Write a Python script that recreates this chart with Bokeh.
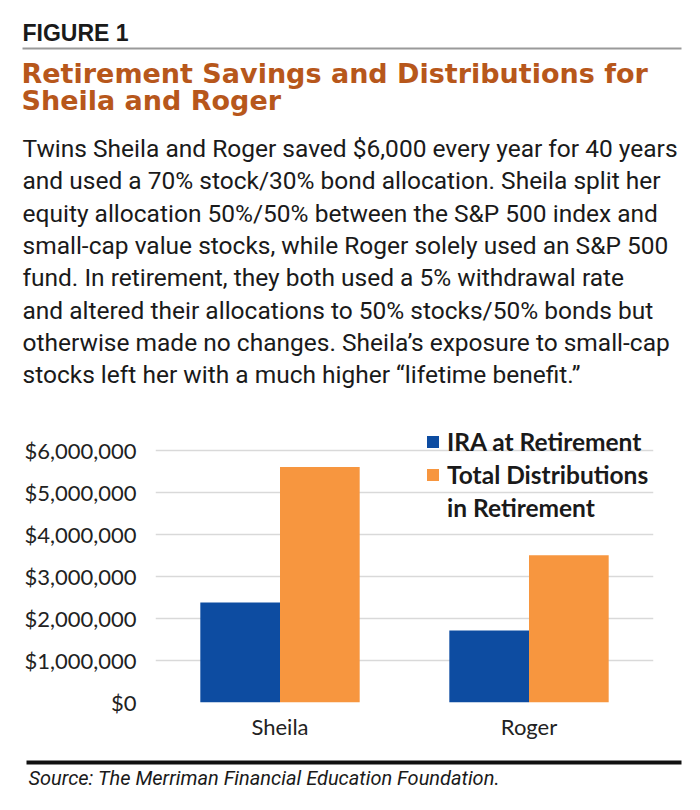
from bokeh.plotting import figure
from bokeh.models import (ColumnDataSource, Range1d, Legend, LegendItem,
                          NumeralTickFormatter, FixedTicker)
from bokeh.transform import dodge
from bokeh.layouts import column
from bokeh.core.properties import value
from bokeh.embed import file_html
from bokeh.resources import INLINE

# data
people = ["Sheila", "Roger"]
ira_at_retirement = [2_380_000, 1_710_000]
total_distributions = [5_600_000, 3_500_000]
y_ticks = [0, 1_000_000, 2_000_000, 3_000_000, 4_000_000, 5_000_000, 6_000_000]
series_names = ["IRA at Retirement", "Total Distributions", "in Retirement"]

figure_tag = "FIGURE 1"
title_lines = ["Retirement Savings and Distributions for", "Sheila and Roger"]
body_lines = [
    "Twins Sheila and Roger saved $6,000 every year for 40 years",
    "and used a 70% stock/30% bond allocation. Sheila split her",
    "equity allocation 50%/50% between the S&P 500 index and",
    "small-cap value stocks, while Roger solely used an S&P 500",
    "fund. In retirement, they both used a 5% withdrawal rate",
    "and altered their allocations to 50% stocks/50% bonds but",
    "otherwise made no changes. Sheila\u2019s exposure to small-cap",
    "stocks left her with a much higher \u201clifetime benefit.\u201d",
]
source_note = "Source: The Merriman Financial Education Foundation."

BLUE = "#0D4CA1"
ORANGE = "#F7963F"
RUST = "#B7571B"
W = 684
HEAD_H, CHART_H, FOOT_H = 410, 342, 42


def blank(height):
    # a figure with pixel coordinates, y going down
    f = figure(width=W, height=height, x_range=Range1d(0, W), y_range=Range1d(height, 0),
               output_backend="svg", toolbar_location=None, min_border=0,
               x_axis_type=None, y_axis_type=None, outline_line_color=None,
               frame_align=False)
    f.grid.visible = False
    return f


def base(y, size):
    # svg text sits ~0.36em under the given y, so lift it to hit the baseline
    return y - 0.36 * size


# header: tag, rule, title, paragraph
hdr = blank(HEAD_H)
hdr.text(x=[22], y=[base(41, 23)], text=[figure_tag], text_font=value("Liberation Sans"),
         text_font_style="bold", text_font_size="23px", text_color="#1a1a1a",
         text_baseline="alphabetic")
hdr.segment(x0=[22], y0=[48], x1=[681], y1=[48], line_color="#9a9a9a", line_width=2)
hdr.text(x=[21] * len(title_lines),
         y=[base(83 + 27 * i, 27) for i in range(len(title_lines))],
         text=title_lines, text_font=value("DejaVu Sans"), text_font_style="bold",
         text_font_size="27px", text_color=RUST, text_baseline="alphabetic")
hdr.text(x=[22] * len(body_lines),
         y=[base(157 + 32.3 * i, 24.5) for i in range(len(body_lines))],
         text=body_lines, text_font=value("Roboto"),
         text_font_size="24.5px", text_color="#1a1a1a", text_baseline="alphabetic")

# chart
src = ColumnDataSource(data=dict(person=people, ira=ira_at_retirement,
                                 dist=total_distributions))
p = figure(width=W, height=CHART_H, x_range=people, y_range=Range1d(0, 6_800_000),
           output_backend="svg", toolbar_location=None, frame_align=False,
           min_border_left=155, min_border_right=31, min_border_top=6, min_border_bottom=50,
           outline_line_color=None)
r1 = p.vbar(x=dodge("person", -0.16, range=p.x_range), top="ira", width=0.32,
            source=src, fill_color=BLUE, line_color=None)
r2 = p.vbar(x=dodge("person", 0.16, range=p.x_range), top="dist", width=0.32,
            source=src, fill_color=ORANGE, line_color=None)
# empty renderer, only used so the second legend line has no swatch
r_blank = p.vbar(x=[], top=[], width=0.32, fill_alpha=0, line_alpha=0)

p.xgrid.visible = False
p.ygrid.grid_line_color = "#D9D9D9"
p.ygrid.grid_line_width = 1.5
p.yaxis.ticker = FixedTicker(ticks=y_ticks)
p.yaxis.formatter = NumeralTickFormatter(format="$0,0")
for ax in (p.xaxis, p.yaxis):
    ax.axis_line_color = None
    ax.major_tick_line_color = None
    ax.minor_tick_line_color = None
    ax.major_label_text_font = "Lato"
    ax.major_label_text_font_size = "22px"
    ax.major_label_text_color = "#222222"
p.yaxis.major_label_standoff = 13
p.xaxis.major_label_standoff = 4

legend = Legend(items=[LegendItem(label=series_names[0], renderers=[r1]),
                       LegendItem(label=series_names[1], renderers=[r2]),
                       LegendItem(label=series_names[2], renderers=[r_blank])],
                location=(270, 180), orientation="vertical",
                glyph_width=15, glyph_height=15, label_standoff=7, spacing=4,
                padding=0, margin=0, border_line_color=None, background_fill_alpha=0,
                label_text_font="Lato", label_text_font_style="bold",
                label_text_font_size="24.5px", label_text_color="#1a1a1a")
p.add_layout(legend, "center")

# footer: heavy rule and source line
ftr = blank(FOOT_H)
ftr.segment(x0=[26], y0=[10], x1=[681], y1=[10], line_color="#111111", line_width=4)
ftr.text(x=[28], y=[base(33, 20)], text=[source_note], text_font=value("Roboto"),
         text_font_style="italic", text_font_size="20px", text_color="#1a1a1a",
         text_baseline="alphabetic")

page = column(hdr, p, ftr)
open("out.html", "w").write(file_html(page, INLINE))
